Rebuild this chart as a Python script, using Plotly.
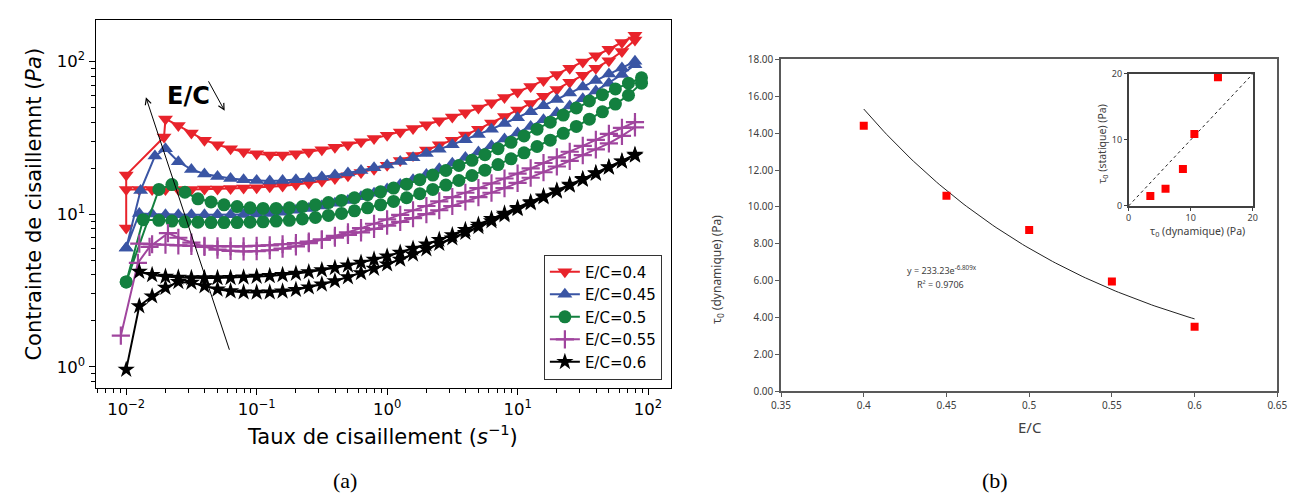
import math
import plotly.graph_objects as go

W, H = 1308, 501


def fx(p):
    return p / W


def fy(p):
    return 1 - p / H


# ---------------- Panel (a) data ----------------
# shear-rate grid (s^-1), 10 points per decade
G = [0.01, 0.0126, 0.0158, 0.02, 0.0251, 0.0316, 0.0398, 0.0501, 0.0631, 0.0794,
     0.1, 0.126, 0.158, 0.2, 0.251, 0.316, 0.398, 0.501, 0.631, 0.794,
     1, 1.26, 1.58, 2, 2.51, 3.16, 3.98, 5.01, 6.31, 7.94,
     10, 12.6, 15.8, 20, 25.1, 31.6, 39.8, 50.1, 63.1, 79.4]
# half-offset grid used for E/C = 0.5
Hg = [0.0178, 0.0224, 0.0282, 0.0355, 0.0447, 0.0562, 0.0708, 0.0891, 0.112, 0.141,
      0.178, 0.224, 0.282, 0.355, 0.447, 0.562, 0.708, 0.891, 1.12, 1.41,
      1.78, 2.24, 2.82, 3.55, 4.47, 5.62, 7.08, 8.91, 11.2, 14.1,
      17.8, 22.4, 28.2, 35.5, 44.7, 56.2, 70.8, 89.1]

# E/C = 0.4
red_up_x = [0.01, 0.01, 0.0195, 0.02] + G[4:]
red_up_y = [8.1, 18, 32, 42,
            38, 34, 30.5, 28.5, 26.8, 25.6, 24.8, 24.4, 24.4, 24.8,
            25.5, 26.4, 27.4, 28.5, 29.8, 31.2, 32.8, 34.5, 36.4, 38.5,
            40.8, 43.2, 46, 49.5, 53.5, 58, 63, 68.5, 75, 82,
            90, 99, 109, 120, 133, 148]
red_dn_x = G
red_dn_y = [14.5, 14.5, 14.5, 14.5, 14.5, 14.5, 14.6, 14.6, 14.7, 14.8,
            14.9, 15.1, 15.3, 15.6, 16, 16.5, 17.1, 17.8, 18.7, 19.7,
            20.9, 22.4, 24.2, 26.3, 28.5, 30.5, 33, 36, 39.5, 43.5,
            48, 53, 59, 65.5, 73, 81, 90, 101, 116, 138]

# E/C = 0.45
blue_up_x = [0.01, 0.0129, 0.0166, 0.02] + G[4:]
blue_up_y = [6.0, 14.3, 24, 26.8,
             22, 19.6, 18.3, 17.6, 17.1, 16.8, 16.6, 16.5, 16.6, 16.8,
             17.1, 17.5, 18, 18.6, 19.3, 20.1, 21, 22.1, 23.4, 24.9,
             26.6, 28.5, 30.7, 33.2, 36, 39.2, 42.8, 46.8, 51.3, 56.3,
             62, 68, 75, 82.5, 90.5, 100]
blue_dn_x = G
blue_dn_y = [6.0, 10.1, 10, 9.9, 9.9, 9.9, 9.9, 9.9, 9.9, 9.95,
             10, 10.1, 10.3, 10.6, 10.9, 11.3, 11.8, 12.3, 13, 13.7,
             14.6, 15.6, 16.8, 18.2, 19.8, 21.5, 23.5, 25.5, 28, 31,
             34, 37.5, 41.5, 46, 51, 57, 64, 72, 82, 95]

# E/C = 0.5
green_up_x = [0.01] + Hg
green_up_y = [3.6,
              14.5, 15.6, 13.9, 12.6, 12, 11.5, 11.2, 11, 10.9, 10.9,
              11, 11.2, 11.5, 11.9, 12.3, 12.8, 13.4, 14, 14.8, 15.7,
              16.8, 18, 19.3, 20.8, 22.5, 24.5, 26.8, 29.5, 32.5, 36,
              40, 44.5, 49.5, 55, 60.5, 66, 72, 78]
green_dn_x = [0.01, 0.0135] + Hg
green_dn_y = [3.6, 9.2,
              9.1, 9.0, 8.9, 8.85, 8.8, 8.8, 8.8, 8.85, 8.9, 9.0,
              9.1, 9.3, 9.5, 9.8, 10.1, 10.5, 11, 11.5, 12.1, 12.8,
              13.6, 14.5, 15.5, 16.6, 17.9, 19.4, 21.1, 23, 25.2, 27.7,
              30.5, 33.8, 37.5, 41.8, 46.7, 52.5, 60, 72]

# E/C = 0.55
purple_up_x = [0.0091, 0.0123, 0.0151, 0.0209] + G[4:]
purple_up_y = [1.6, 4.8, 6.1, 7.5,
               7.0, 6.5, 6.1, 5.85, 5.75, 5.7, 5.72, 5.8, 5.95, 6.15,
               6.45, 6.8, 7.2, 7.6, 8.1, 8.65, 9.25, 9.9, 10.6, 11.3,
               12.1, 12.9, 13.8, 14.8, 15.9, 17.1, 18.4, 19.9, 21.6, 23.5,
               25.6, 28, 30.6, 33.5, 36.7, 40]
purple_dn_x = G[1:]
purple_dn_y = [6.4, 6.35, 6.3, 6.25, 6.2, 6.2, 6.15, 6.15, 6.15,
               6.2, 6.25, 6.35, 6.45, 6.6, 6.8, 7.0, 7.3, 7.6, 8.0,
               8.4, 8.9, 9.4, 10, 10.6, 11.3, 12.1, 12.9, 13.8, 14.8,
               16, 17.3, 18.8, 20.5, 22.3, 24.3, 26.5, 29, 32.5, 37]

# E/C = 0.6
black_up_x = G
black_up_y = [0.96, 2.5, 2.9, 3.3, 3.6, 3.56, 3.38, 3.22, 3.13, 3.08,
              3.07, 3.08, 3.12, 3.2, 3.32, 3.47, 3.65, 3.87, 4.12, 4.4,
              4.7, 5.05, 5.45, 5.9, 6.4, 6.95, 7.55, 8.25, 9.0, 9.85,
              10.8, 11.8, 12.9, 14.1, 15.4, 16.8, 18.4, 20.2, 22.1, 24.2]
black_dn_x = G[1:]
black_dn_y = [4.2, 4.0, 3.9, 3.85, 3.82, 3.82, 3.82, 3.83, 3.86,
              3.9, 3.94, 4.0, 4.08, 4.18, 4.3, 4.45, 4.62, 4.82, 5.05,
              5.3, 5.6, 5.95, 6.35, 6.8, 7.3, 7.9, 8.55, 9.3, 10.1,
              11, 12, 13.1, 14.3, 15.6, 17, 18.6, 20.3, 22.2, 24.5]

series_names = ["E/C=0.4", "E/C=0.45", "E/C=0.5", "E/C=0.55", "E/C=0.6"]
series_colors = ["#e8232b", "#3a55a4", "#13803f", "#a0459e", "#000000"]
series_symbols = ["triangle-down", "triangle-up", "circle", "cross-thin", "star"]
series_sizes = [13, 13, 13, 13, 13]
ups = [(red_up_x, red_up_y), (blue_up_x, blue_up_y), (green_up_x, green_up_y),
       (purple_up_x, purple_up_y), (black_up_x, black_up_y)]
downs = [(red_dn_x, red_dn_y), (blue_dn_x, blue_dn_y), (green_dn_x, green_dn_y),
         (purple_dn_x, purple_dn_y), (black_dn_x, black_dn_y)]

XMAJ = [0.01, 0.1, 1, 10, 100]
XLAB = ["10<sup>\u22122</sup>", "10<sup>\u22121</sup>", "10<sup>0</sup>", "10<sup>1</sup>", "10<sup>2</sup>"]
YMAJ = [1, 10, 100]
YLAB = ["10<sup>0</sup>", "10<sup>1</sup>", "10<sup>2</sup>"]

# ---------------- Panel (b) data ----------------
EC = [0.4, 0.45, 0.5, 0.55, 0.6]
tau_dyn = [14.4, 10.6, 8.75, 5.95, 3.5]
tau_stat = [19.5, 10.9, 5.6, 2.6, 1.5]
fit_A = 233.23
fit_k = -6.809
EC_TICKS = [0.35, 0.4, 0.45, 0.5, 0.55, 0.6, 0.65]
EC_LABELS = ["0.35", "0.4", "0.45", "0.5", "0.55", "0.6", "0.65"]
INSET_TICKS = [0, 10, 20]

fig = go.Figure()

for i in range(5):
    ux, uy = ups[i]
    dx, dy = downs[i]
    xs = list(ux) + list(dx)[::-1]
    ys = list(uy) + list(dy)[::-1]
    col = series_colors[i]
    sym = series_symbols[i]
    mk = dict(symbol=sym, size=series_sizes[i], color=col)
    if sym == "cross-thin":
        mk["line"] = dict(color=col, width=2.2)
    else:
        mk["line"] = dict(width=0)
    fig.add_trace(go.Scatter(x=xs, y=ys, mode="lines+markers", name=series_names[i],
                             line=dict(color=col, width=2), marker=mk,
                             xaxis="x", yaxis="y"))

# panel (b): exponential trend line y = A*exp(k*x), as printed on the chart
fit_x = [EC[0] + (EC[-1] - EC[0]) * j / 100 for j in range(101)]
fit_y = [fit_A * math.exp(fit_k * v) for v in fit_x]
fig.add_trace(go.Scatter(x=fit_x, y=fit_y, mode="lines", line=dict(color="#222222", width=1),
                         showlegend=False, xaxis="x2", yaxis="y2", hoverinfo="skip"))
fig.add_trace(go.Scatter(x=EC, y=tau_dyn, mode="markers",
                         marker=dict(symbol="square", size=8, color="#ff0000"),
                         showlegend=False, xaxis="x2", yaxis="y2"))
# inset
fig.add_trace(go.Scatter(x=[0, 20], y=[0, 20], mode="lines",
                         line=dict(color="#222222", width=1, dash="dot"),
                         showlegend=False, xaxis="x3", yaxis="y3", hoverinfo="skip"))
fig.add_trace(go.Scatter(x=tau_dyn, y=tau_stat, mode="markers",
                         marker=dict(symbol="square", size=8, color="#ff0000"),
                         showlegend=False, xaxis="x3", yaxis="y3"))

FA = "DejaVu Sans"
FB = "Noto Sans"
minor_x = [m * 10 ** e for e in range(-3, 3) for m in range(2, 10)]
minor_y = [m * 10 ** e for e in range(-1, 3) for m in range(2, 10)]

axis_a = dict(showline=True, mirror=True, linecolor="black", linewidth=1.3,
              ticks="outside", ticklen=6, tickwidth=1.2, tickcolor="black",
              showgrid=False, zeroline=False, tickmode="array",
              tickfont=dict(family=FA, size=16.5, color="black"))

fig.update_layout(
    width=W, height=H, autosize=False,
    margin=dict(l=0, r=0, t=0, b=0),
    paper_bgcolor="white", plot_bgcolor="white",
    xaxis=dict(axis_a, domain=[fx(87), fx(671)], type="log", range=[-2.234, 2.174],
               tickvals=XMAJ, ticktext=XLAB, anchor="y",
               minor=dict(tickmode="array", tickvals=minor_x, ticks="outside", ticklen=3.5,
                          tickwidth=1, tickcolor="black", showgrid=False)),
    yaxis=dict(axis_a, domain=[fy(392), fy(12)], type="log", range=[-0.14, 2.273],
               tickvals=YMAJ, ticktext=YLAB, anchor="x",
               minor=dict(tickmode="array", tickvals=minor_y, ticks="outside", ticklen=3.5,
                          tickwidth=1, tickcolor="black", showgrid=False)),
    xaxis2=dict(domain=[fx(783), fx(1287)], range=[0.35, 0.65], anchor="y2",
                tickmode="array", tickvals=EC_TICKS, ticktext=EC_LABELS,
                showline=True, mirror=True, linecolor="#595959", linewidth=1.5,
                ticks="outside", ticklen=4, tickcolor="#595959",
                showgrid=False, zeroline=False,
                tickfont=dict(family=FB, size=10, color="#404040")),
    yaxis2=dict(domain=[fy(395), fy(53)], range=[0, 18], anchor="x2", dtick=2,
                tickformat=".2f",
                showline=True, mirror=True, linecolor="#595959", linewidth=1.5,
                ticks="outside", ticklen=4, tickcolor="#595959",
                showgrid=False, zeroline=False,
                tickfont=dict(family=FB, size=10, color="#404040")),
    xaxis3=dict(domain=[fx(1136), fx(1262)], range=[0, 20], anchor="y3",
                tickmode="array", tickvals=INSET_TICKS,
                showline=True, mirror=True, linecolor="#404040", linewidth=1.5,
                ticks="outside", ticklen=3, tickcolor="#404040",
                showgrid=False, zeroline=False,
                tickfont=dict(family=FB, size=9, color="#404040")),
    yaxis3=dict(domain=[fy(204), fy(68)], range=[0, 20], anchor="x3",
                tickmode="array", tickvals=INSET_TICKS,
                showline=True, mirror=True, linecolor="#404040", linewidth=1.5,
                ticks="outside", ticklen=3, tickcolor="#404040",
                showgrid=False, zeroline=False,
                tickfont=dict(family=FB, size=9, color="#404040")),
    legend=dict(x=fx(662), xanchor="right", y=fy(383), yanchor="bottom",
                bordercolor="#333333", borderwidth=1, bgcolor="white",
                font=dict(family=FA, size=15, color="black"), tracegroupgap=0),
    showlegend=True,
)

ann = []


def A(text, px, py, size, family, color="black", angle=0, **kw):
    d = dict(text=text, x=fx(px), y=fy(py), xref="paper", yref="paper",
             showarrow=False, font=dict(family=family, size=size, color=color),
             textangle=angle, xanchor="center", yanchor="middle")
    d.update(kw)
    ann.append(d)


A("Contrainte de cisaillemnt (<i>Pa</i>)", 24, 202, 21, FA, angle=-90)
A("Taux de cisaillement (<i>s</i><sup>\u22121</sup>)", 378, 440, 21, FA)
A("<b>E/C</b>", 181, 91, 24, FA)
A("(a)", 340, 487, 22, "Liberation Serif")
A("(b)", 1000, 487, 22, "Liberation Serif")
A("\u03c4<sub>0</sub> (dynamique) (Pa)", 718, 270, 12, FB, color="#404040", angle=-90)
A("E/C", 1036, 432, 15, FB, color="#404040")
A("y = 233.23e<sup>-6.809x</sup>", 946, 270, 9, FB, color="#404040")
A("R\u00b2 = 0.9706", 945, 285, 9, FB, color="#404040")
A("\u03c4<sub>0</sub> (statique) (Pa)", 1110, 140, 10.5, FB, color="#404040", angle=-90)
A("\u03c4<sub>0</sub> (dynamique) (Pa)", 1206, 230, 10.5, FB, color="#404040")

# arrows
ann.append(dict(text="", x=fx(138), y=fy(92), xref="paper", yref="paper", showarrow=True,
                ax=84, ay=254, arrowhead=5, arrowsize=1.2, arrowwidth=1, arrowcolor="black",
                standoff=0, startstandoff=0))
ann.append(dict(text="", x=fx(218), y=fy(106), xref="paper", yref="paper", showarrow=True,
                ax=-17, ay=-31, arrowhead=5, arrowsize=1.2, arrowwidth=1, arrowcolor="black",
                standoff=0, startstandoff=0))

fig.update_layout(annotations=ann)

fig.write_html("out.html", config={"displayModeBar": False},
               post_script="document.body.style.margin='0';document.body.style.overflow='hidden';")
